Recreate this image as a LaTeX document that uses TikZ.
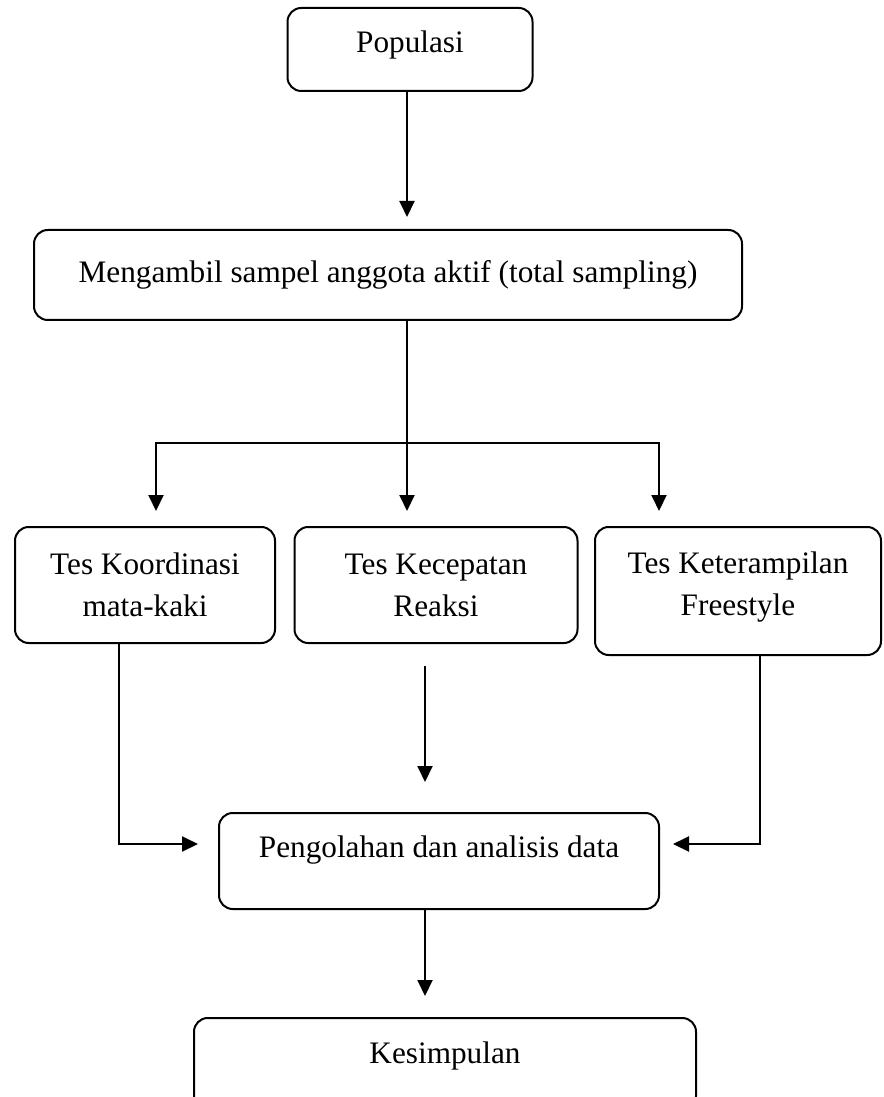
\documentclass[tikz,border=0pt]{standalone}
\usepackage{fontspec}
\setmainfont{Liberation Serif}
\usetikzlibrary{calc}
\usetikzlibrary{arrows.meta}
\newcommand\px{0.4pt}

\begin{document}
\begin{tikzpicture}[
        x=\px, y=-\px,
        mybox/.style={draw, thick, rounded corners=5.5pt, align=center,
            font=\fontsize{12.5}{16.8}\selectfont, inner sep=0pt},
        myarrow/.style={thick, ->, >={Triangle[length=6.4pt, width=6pt]}}
    ]
    \useasboundingbox (0,0) rectangle (883,1097);
    \clip (0,0) rectangle (883,1097);

    % boxes
    \node[mybox, minimum width=245*\px, minimum height=83*\px, text depth=6pt] (pop) at (410,49.5) {Populasi};
    \node[mybox, minimum width=708*\px, minimum height=90*\px] (samp) at (388,275) {Mengambil sampel anggota aktif (total sampling)};
    \node[mybox, minimum width=260*\px, minimum height=116*\px] (koor) at (145,585) {Tes Koordinasi\\mata-kaki};
    \node[mybox, minimum width=283*\px, minimum height=116*\px] (kec) at (436,585) {Tes Kecepatan\\Reaksi};
    \node[mybox, minimum width=286*\px, minimum height=128*\px, text depth=6pt] (ket) at (738,591) {Tes Keterampilan\\Freestyle};
    \node[mybox, minimum width=440*\px, minimum height=96*\px, text depth=11.5pt] (olah) at (439,861) {Pengolahan dan analisis data};
    \node[mybox, minimum width=502*\px, minimum height=92*\px, text depth=9pt] (simp) at (445,1064) {Kesimpulan};

    % free ends
    \coordinate (fork) at ($(samp.south)+(19,122)$);
    \coordinate (inK) at ($(koor.north)+(11,-15)$);
    \coordinate (inF) at ($(ket.north)+(-79,-15)$);
    \coordinate (toK) at ($(olah.west)+(-20,-17)$);
    \coordinate (toF) at ($(olah.east)+(13,-17)$);

    % connectors
    \draw[myarrow] ($(pop.south)+(-3,0)$) -- ($(samp.north)+(19,-12)$);
    \draw[thick] ($(samp.south)+(19,0)$) -- (fork);
    \draw[myarrow] (fork) -| (inK);
    \draw[myarrow] (fork) -- (fork |- inK);
    \draw[myarrow] (fork) -| (inF);
    \draw[myarrow] ($(koor.south)+(-26,0)$) |- (toK);
    \draw[myarrow] ($(kec.south)+(-11,22)$) -- ($(olah.north)+(-14,-30)$);
    \draw[myarrow] ($(ket.south)+(22,0)$) |- (toF);
    \draw[myarrow] ($(olah.south)+(-14,0)$) -- ($(simp.north)+(-20,-21)$);
\end{tikzpicture}
\end{document}
